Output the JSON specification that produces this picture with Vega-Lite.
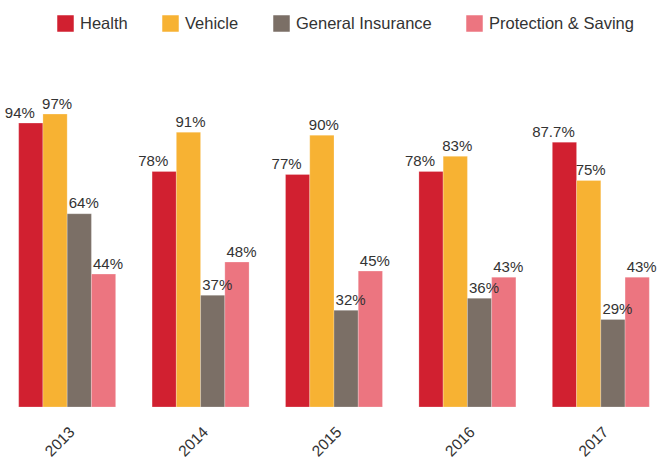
{
  "$schema": "https://vega.github.io/schema/vega-lite/v6.json",
  "autosize": "none",
  "width": 668,
  "height": 302,
  "padding": {"left": 0, "top": 105, "right": 0, "bottom": 52},
  "background": "white",
  "config": {
    "view": {"stroke": null},
    "font": "Liberation Sans",
    "text": {"font": "Liberation Sans"}
  },
  "data": {
    "values": [
      {"year": "2013", "series": "Health", "value": 0.94},
      {"year": "2013", "series": "Vehicle", "value": 0.97},
      {"year": "2013", "series": "General Insurance", "value": 0.64},
      {"year": "2013", "series": "Protection & Saving", "value": 0.44},
      {"year": "2014", "series": "Health", "value": 0.78},
      {"year": "2014", "series": "Vehicle", "value": 0.91},
      {"year": "2014", "series": "General Insurance", "value": 0.37},
      {"year": "2014", "series": "Protection & Saving", "value": 0.48},
      {"year": "2015", "series": "Health", "value": 0.77},
      {"year": "2015", "series": "Vehicle", "value": 0.90},
      {"year": "2015", "series": "General Insurance", "value": 0.32},
      {"year": "2015", "series": "Protection & Saving", "value": 0.45},
      {"year": "2016", "series": "Health", "value": 0.78},
      {"year": "2016", "series": "Vehicle", "value": 0.83},
      {"year": "2016", "series": "General Insurance", "value": 0.36},
      {"year": "2016", "series": "Protection & Saving", "value": 0.43},
      {"year": "2017", "series": "Health", "value": 0.877},
      {"year": "2017", "series": "Vehicle", "value": 0.75},
      {"year": "2017", "series": "General Insurance", "value": 0.29},
      {"year": "2017", "series": "Protection & Saving", "value": 0.43}
    ]
  },
  "encoding": {
    "x": {
      "field": "year",
      "type": "nominal",
      "scale": {"paddingInner": 0.273, "paddingOuter": 0.14},
      "axis": {
        "title": null,
        "domain": false,
        "ticks": false,
        "tickSize": 0,
        "labelAngle": -45,
        "labelAlign": "right",
        "labelBaseline": "middle",
        "labelFontSize": 15.5,
        "labelColor": "#333333",
        "labelFont": "Liberation Sans",
        "labelPadding": 22,
        "labelOffset": 5
      }
    },
    "xOffset": {
      "field": "series",
      "type": "nominal",
      "sort": ["Health", "Vehicle", "General Insurance", "Protection & Saving"],
      "scale": {"paddingInner": 0, "paddingOuter": 0}
    },
    "y": {
      "field": "value",
      "type": "quantitative",
      "scale": {"domain": [0, 1], "nice": false},
      "axis": null
    }
  },
  "layer": [
    {
      "mark": {"type": "bar", "stroke": "white", "strokeWidth": 0.4, "strokeOpacity": 0.6},
      "encoding": {
        "color": {
          "field": "series",
          "type": "nominal",
          "sort": ["Health", "Vehicle", "General Insurance", "Protection & Saving"],
          "scale": {
            "domain": ["Health", "Vehicle", "General Insurance", "Protection & Saving"],
            "range": ["#D12030", "#F7B233", "#7B6F66", "#EC7580"]
          },
          "legend": {
            "title": null,
            "orient": "none",
            "direction": "horizontal",
            "legendX": 57,
            "legendY": -90,
            "symbolType": "square",
            "symbolSize": 272,
            "symbolStrokeWidth": 0,
            "labelFontSize": 16.5,
            "labelFont": "Liberation Sans",
            "labelColor": "#333333",
            "labelOffset": 6,
            "columnPadding": 34,
            "labelLimit": 300
          }
        }
      }
    },
    {
      "transform": [{"filter": "datum.series === 'Health'"}],
      "mark": {"type": "text", "dy": -5.5, "dx": -11, "baseline": "alphabetic", "fontSize": 15, "fill": "#333333"},
      "encoding": {"text": {"field": "value", "type": "quantitative", "format": ".1~%"}}
    },
    {
      "transform": [{"filter": "datum.series === 'Vehicle'"}],
      "mark": {"type": "text", "dy": -5.5, "dx": 2, "baseline": "alphabetic", "fontSize": 15, "fill": "#333333"},
      "encoding": {"text": {"field": "value", "type": "quantitative", "format": ".1~%"}}
    },
    {
      "transform": [{"filter": "datum.series === 'General Insurance' || datum.series === 'Protection & Saving'"}],
      "mark": {"type": "text", "dy": -5.5, "dx": 4.5, "baseline": "alphabetic", "fontSize": 15, "fill": "#333333"},
      "encoding": {"text": {"field": "value", "type": "quantitative", "format": ".1~%"}}
    }
  ]
}
